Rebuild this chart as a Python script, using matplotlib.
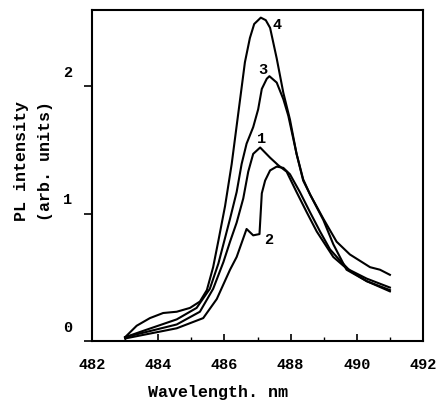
import matplotlib.pyplot as plt
import matplotlib.transforms as mtransforms

# wavelength (nm) / PL intensity
wl_1 = [483.0, 484.56, 485.26, 485.66, 485.97, 486.17, 486.37, 486.57, 486.72, 486.87, 487.08,
        487.38, 487.63, 487.88, 488.18, 488.49, 488.79, 488.99, 489.29, 489.69, 490.3, 491.0]
pl_1 = [0.03, 0.13, 0.23, 0.41, 0.62, 0.78, 0.93, 1.12, 1.33, 1.47, 1.52,
        1.44, 1.38, 1.33, 1.17, 1.01, 0.86, 0.78, 0.66, 0.57, 0.49, 0.42]

wl_2 = [483.0, 484.56, 485.36, 485.77, 486.17, 486.37, 486.67, 486.87, 487.06, 487.13, 487.23,
        487.38, 487.58, 487.78, 487.98, 488.28, 488.59, 488.89, 489.19, 489.5, 489.8, 490.3, 491.0]
pl_2 = [0.02, 0.10, 0.18, 0.33, 0.56, 0.66, 0.88, 0.83, 0.84, 1.16, 1.26,
        1.34, 1.37, 1.36, 1.31, 1.17, 1.01, 0.86, 0.72, 0.63, 0.55, 0.47, 0.39]

wl_3 = [483.0, 483.55, 484.56, 485.16, 485.56, 485.82, 485.97, 486.17, 486.37, 486.52, 486.67,
        486.87, 487.02, 487.13, 487.28, 487.36, 487.58, 487.78, 487.93, 488.18, 488.38, 488.59,
        488.99, 489.29, 489.69, 490.3, 491.0]
pl_3 = [0.03, 0.08, 0.17, 0.26, 0.41, 0.61, 0.76, 0.96, 1.17, 1.39, 1.55,
        1.68, 1.82, 1.98, 2.06, 2.08, 2.03, 1.90, 1.77, 1.47, 1.27, 1.15,
        0.95, 0.76, 0.56, 0.47, 0.40]

wl_4 = [483.0, 483.35, 483.75, 484.15, 484.56, 484.96, 485.26, 485.47, 485.66, 485.82, 486.02,
        486.22, 486.42, 486.62, 486.77, 486.9, 487.1, 487.25, 487.38, 487.58, 487.78, 487.98,
        488.18, 488.38, 488.59, 488.99, 489.39, 489.79, 490.4, 490.7, 491.0]
pl_4 = [0.03, 0.12, 0.18, 0.22, 0.23, 0.26, 0.31, 0.40, 0.58, 0.79, 1.06,
        1.39, 1.79, 2.19, 2.38, 2.49, 2.54, 2.52, 2.46, 2.22, 1.95, 1.74,
        1.47, 1.26, 1.15, 0.96, 0.78, 0.68, 0.58, 0.56, 0.52]

labels = ["1", "2", "3", "4"]
label_pos = [(487.13, 1.59), (487.35, 0.79), (487.17, 2.13), (487.6, 2.48)]

mono = "Liberation Mono"

fig = plt.figure(figsize=(4.37, 4.03), dpi=100)
ax = fig.add_axes([0.2105, 0.1538, 0.7575, 0.8214])

for wl, pl in [(wl_1, pl_1), (wl_2, pl_2), (wl_3, pl_3), (wl_4, pl_4)]:
    ax.plot(wl, pl, color="black", lw=1.5, solid_joinstyle="round")

for txt, (x, y) in zip(labels, label_pos):
    ax.text(x, y, txt, fontsize=11, fontweight="bold", family=mono,
            ha="center", va="center")

ax.set_xlim(482, 492)
ax.set_ylim(0, 2.6)
ax.set_xticks([482, 484, 486, 488, 490, 492])
ax.set_xticks(range(482, 493), minor=True)
ax.set_yticks([0, 1, 2])
ax.tick_params(axis="x", which="major", direction="in", length=5, width=1.2, pad=12)
ax.tick_params(axis="x", which="minor", direction="in", length=3, width=1)
ax.tick_params(axis="y", direction="out", length=6, width=1.2, pad=8)
for sp in ax.spines.values():
    sp.set_linewidth(1.5)

for lab in ax.get_xticklabels() + ax.get_yticklabels():
    lab.set_fontfamily(mono)
    lab.set_fontweight("bold")
    lab.set_fontsize(11)

# y labels in the scan sit above their ticks
shift = mtransforms.ScaledTranslation(0, 0.15, fig.dpi_scale_trans)
for lab in ax.get_yticklabels():
    lab.set_transform(lab.get_transform() + shift)

fig.text(0.5, 0.025, "Wavelength. nm", ha="center", va="center",
         family=mono, fontweight="bold", fontsize=12)
fig.text(0.05, 0.6, "PL intensity", rotation=90, ha="center", va="center",
         family=mono, fontweight="bold", fontsize=12)
fig.text(0.103, 0.6, "(arb. units)", rotation=90, ha="center", va="center",
         family=mono, fontweight="bold", fontsize=12)

fig.savefig("out.png", dpi=100)
